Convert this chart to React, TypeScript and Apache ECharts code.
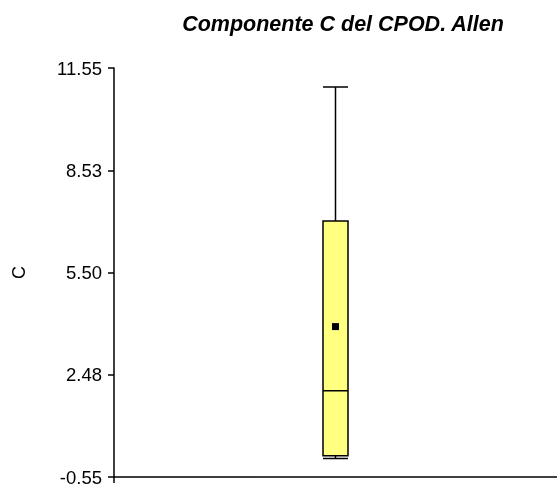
import React, { useEffect, useRef } from "react";
import * as echarts from "echarts";

const categories = ["Allen"];
const boxValues = [[0.0, 0.08, 2.0, 7.02, 10.99]]; // min, Q1, median, Q3, max
const meanValues = [3.9];
const yTicks = [-0.55, 2.475, 5.5, 8.525, 11.55];
const yTickLabels = ["-0.55", "2.48", "5.50", "8.53", "11.55"];

export default function App() {
  const ref = useRef<HTMLDivElement>(null);
  useEffect(() => {
    if (!ref.current) return;
    const chart = echarts.init(ref.current, undefined, { renderer: "svg" });
    const font = "'Liberation Sans', Arial, sans-serif";
    chart.setOption({
      animation: false,
      title: {
        text: "Componente C del CPOD. Allen",
        left: 338,
        top: 8,
        textAlign: "center",
        textStyle: { fontFamily: font, fontSize: 21.5, fontWeight: "bold", fontStyle: "italic", color: "#000" },
      },
      grid: { left: 114, top: 68, bottom: 10, right: -9 },
      xAxis: [
        {
          type: "category",
          data: categories,
          boundaryGap: true,
          axisLine: { onZero: false, lineStyle: { color: "#000", width: 1.5 } },
          axisTick: { alignWithLabel: true, length: 5, lineStyle: { color: "#000", width: 1.5 } },
          axisLabel: { show: false },
        },
        {
          type: "value",
          min: 0,
          max: 1,
          position: "bottom",
          axisLine: { show: false, onZero: false },
          splitLine: { show: false },
          axisLabel: { show: false },
          axisTick: { show: true, customValues: [0], length: 6, lineStyle: { color: "#000", width: 1.5 } },
        },
      ],
      yAxis: {
        type: "value",
        min: -0.55,
        max: 11.55,
        name: "C",
        nameLocation: "middle",
        nameGap: 86,
        nameRotate: 90,
        nameTextStyle: { fontFamily: font, fontSize: 18, color: "#000" },
        splitLine: { show: false },
        axisLine: { show: true, onZero: false, lineStyle: { color: "#000", width: 1.5 } },
        axisTick: { show: true, customValues: yTicks, length: 6, lineStyle: { color: "#000", width: 1.5 } },
        axisLabel: {
          customValues: yTicks,
          margin: 12,
          fontFamily: font,
          fontSize: 18.5,
          color: "#000",
          formatter: (v: number) => {
            let best = 0;
            yTicks.forEach((t, i) => {
              if (Math.abs(t - v) < Math.abs(yTicks[best] - v)) best = i;
            });
            return yTickLabels[best];
          },
        },
      },
      series: [
        {
          type: "boxplot",
          xAxisIndex: 0,
          data: boxValues,
          boxWidth: [25, 25],
          itemStyle: { color: "#FFFF80", borderColor: "#000", borderWidth: 1.5 },
        },
        {
          type: "scatter",
          xAxisIndex: 0,
          data: meanValues.map((m, i) => [categories[i], m]),
          symbol: "rect",
          symbolSize: 7,
          itemStyle: { color: "#000", opacity: 1 },
        },
      ],
    });
    return () => chart.dispose();
  }, []);
  return <div ref={ref} style={{ position: "fixed", left: 0, top: 0, width: 557, height: 487 }} />;
}
